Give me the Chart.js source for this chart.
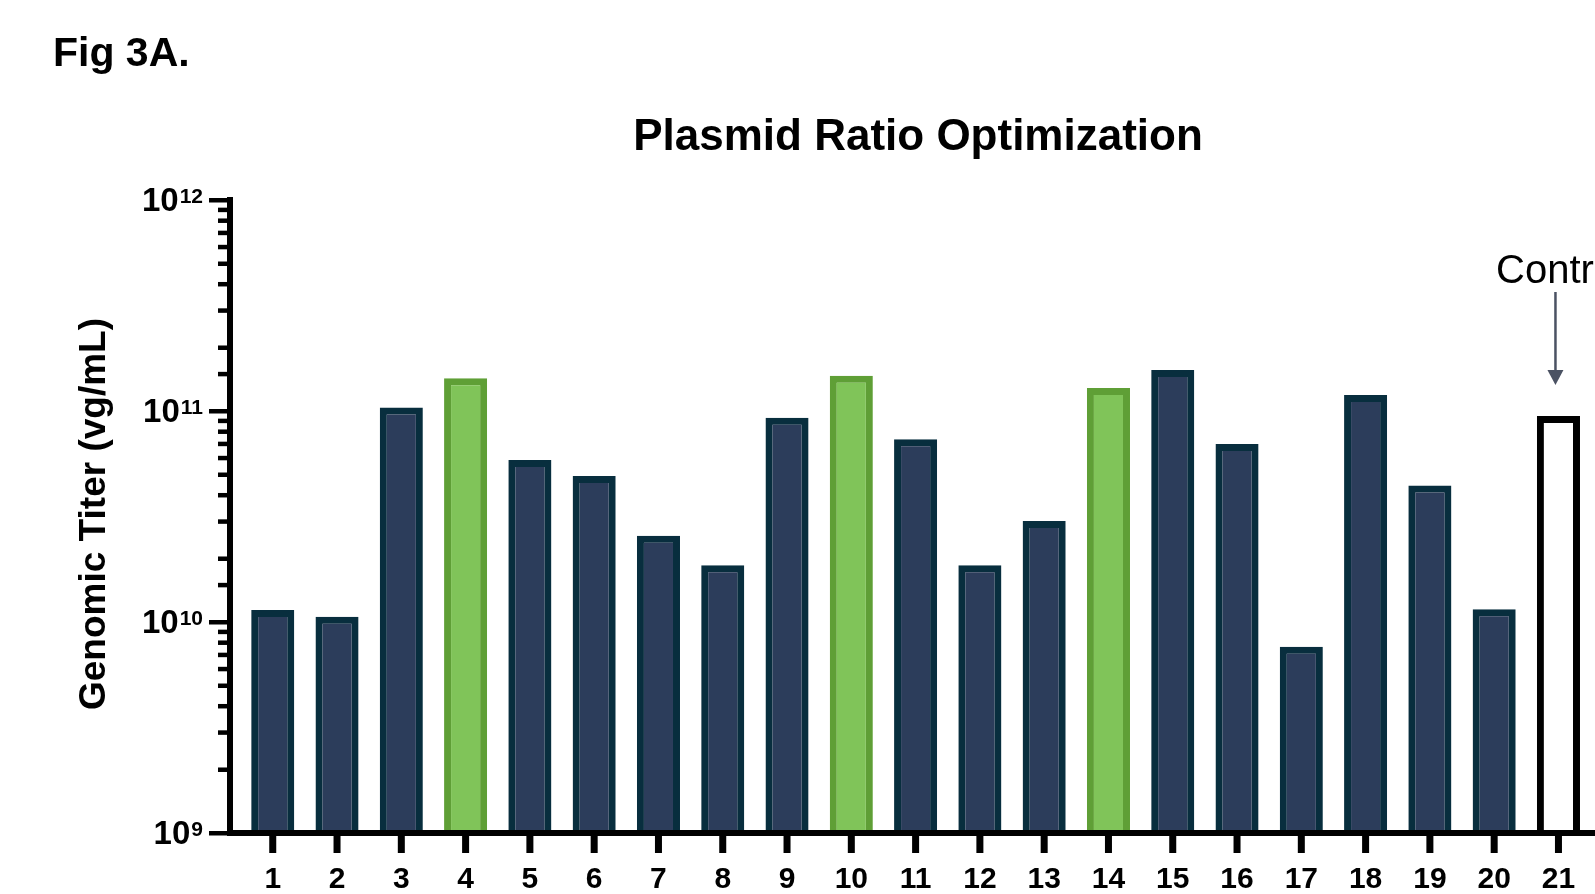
<!DOCTYPE html>
<html>
<head>
<meta charset="utf-8">
<title>Plasmid Ratio Optimization</title>
<script src="https://cdn.jsdelivr.net/npm/chart.js@4"></script>
<style>
  html, body { margin: 0; padding: 0; background: #fff; overflow: hidden; }
  canvas { display: block; }
</style>
</head>
<body>
<canvas id="titerChart" width="1595" height="894"></canvas>
<script>
// Data - genomic titer per plasmid ratio condition
const conditions = ['1', '2', '3', '4', '5', '6', '7', '8', '9', '10', '11',
  '12', '13', '14', '15', '16', '17', '18', '19', '20', '21'];
const titers = [1.14e10, 1.06e10, 1.04e11, 1.43e11, 5.86e10, 4.92e10, 2.56e10,
  1.86e10, 9.3e10, 1.47e11, 7.34e10, 1.86e10, 3.01e10, 1.285e11, 1.565e11,
  6.98e10, 7.64e9, 1.19e11, 4.44e10, 1.15e10, 9.47e10];
const highlighted = ['4', '10', '14'];
const controlCondition = '21';
const yTickExponents = [9, 10, 11, 12];

const FONT = '"Liberation Sans", Arial, sans-serif';

const fills = conditions.map(c =>
  c === controlCondition ? '#ffffff' : highlighted.includes(c) ? '#80c459' : '#2c3d5b');
const borders = conditions.map(c =>
  c === controlCondition ? '#000000' : highlighted.includes(c) ? '#5f9f36' : '#082e3e');

// Axes, ticks and labels drawn GraphPad style
const axesPlugin = {
  id: 'prismAxes',
  afterDraw(chart) {
    const ctx = chart.ctx;
    const x = chart.scales.x;
    const y = chart.scales.y;
    const axisX = 230;
    const baseY = y.getPixelForValue(1e9);
    const topY = y.getPixelForValue(1e12);
    ctx.save();
    ctx.fillStyle = '#000';

    // axis lines
    ctx.fillRect(axisX - 3, topY - 3, 6, baseY - topY + 6);
    ctx.fillRect(axisX - 3, baseY - 3, chart.width, 6);

    // y ticks (log minor + major)
    y.ticks.forEach(t => {
      const py = y.getPixelForValue(t.value);
      const major = Math.abs(Math.log10(t.value) - Math.round(Math.log10(t.value))) < 1e-9;
      const len = major ? 18 : 9;
      ctx.fillRect(axisX - 3 - len, py - 2, len, 4.5);
    });

    // y tick labels 10^n
    yTickExponents.forEach(n => {
      const py = y.getPixelForValue(Math.pow(10, n));
      ctx.textAlign = 'right';
      ctx.textBaseline = 'alphabetic';
      ctx.font = 'bold 21px ' + FONT;
      const ew = ctx.measureText(String(n)).width;
      ctx.fillText(String(n), 203, py + 3);
      ctx.font = 'bold 33px ' + FONT;
      ctx.fillText('10', 203 - ew - 1, py + 11);
    });

    // x ticks and labels
    ctx.font = 'bold 30px ' + FONT;
    ctx.textAlign = 'center';
    conditions.forEach((c, i) => {
      const px = x.getPixelForValue(i);
      ctx.fillRect(px - 3.5, baseY + 3, 7, 17);
      ctx.fillText(c, px, 888);
    });

    // titles
    ctx.font = 'bold 44px ' + FONT;
    ctx.fillText('Plasmid Ratio Optimization', 918, 150);

    ctx.save();
    ctx.translate(95, 514);
    ctx.rotate(-Math.PI / 2);
    ctx.textBaseline = 'middle';
    ctx.font = 'bold 37px ' + FONT;
    ctx.fillText('Genomic Titer (vg/mL)', 0, 0);
    ctx.restore();

    ctx.textAlign = 'left';
    ctx.font = 'bold 41px ' + FONT;
    ctx.fillText('Fig 3A.', 53, 66);

    // control annotation
    const ci = conditions.indexOf(controlCondition);
    const cx = x.getPixelForValue(ci) - 3;
    const cTop = y.getPixelForValue(titers[ci]);
    ctx.font = '40px ' + FONT;
    ctx.fillText('Control', 1496, 283);
    ctx.strokeStyle = '#4b5263';
    ctx.fillStyle = '#4b5263';
    ctx.lineWidth = 2.5;
    ctx.beginPath();
    ctx.moveTo(cx, 292);
    ctx.lineTo(cx, cTop - 44);
    ctx.stroke();
    ctx.beginPath();
    ctx.moveTo(cx - 8, cTop - 46);
    ctx.lineTo(cx + 8, cTop - 46);
    ctx.lineTo(cx, cTop - 31);
    ctx.closePath();
    ctx.fill();
    ctx.restore();
  }
};

const ctx = document.getElementById('titerChart').getContext('2d');
const titerChart = new Chart(ctx, {
  type: 'bar',
  data: {
    labels: conditions,
    datasets: [{
      label: 'Genomic Titer (vg/mL)',
      data: titers,
      backgroundColor: fills,
      borderColor: borders,
      borderWidth: 7,
      borderSkipped: 'bottom',
      categoryPercentage: 1,
      barPercentage: 0.67
    }]
  },
  options: {
    responsive: false,
    animation: false,
    devicePixelRatio: 1,
    layout: {
      padding: { left: 240.6, right: 4.4, top: 200, bottom: 61 }
    },
    plugins: {
      legend: { display: false },
      tooltip: { enabled: false },
      title: { display: false }
    },
    scales: {
      x: { type: 'category', display: false, offset: true },
      y: { type: 'logarithmic', display: false, min: 1e9, max: 1e12 }
    }
  },
  plugins: [axesPlugin]
});
</script>
</body>
</html>
